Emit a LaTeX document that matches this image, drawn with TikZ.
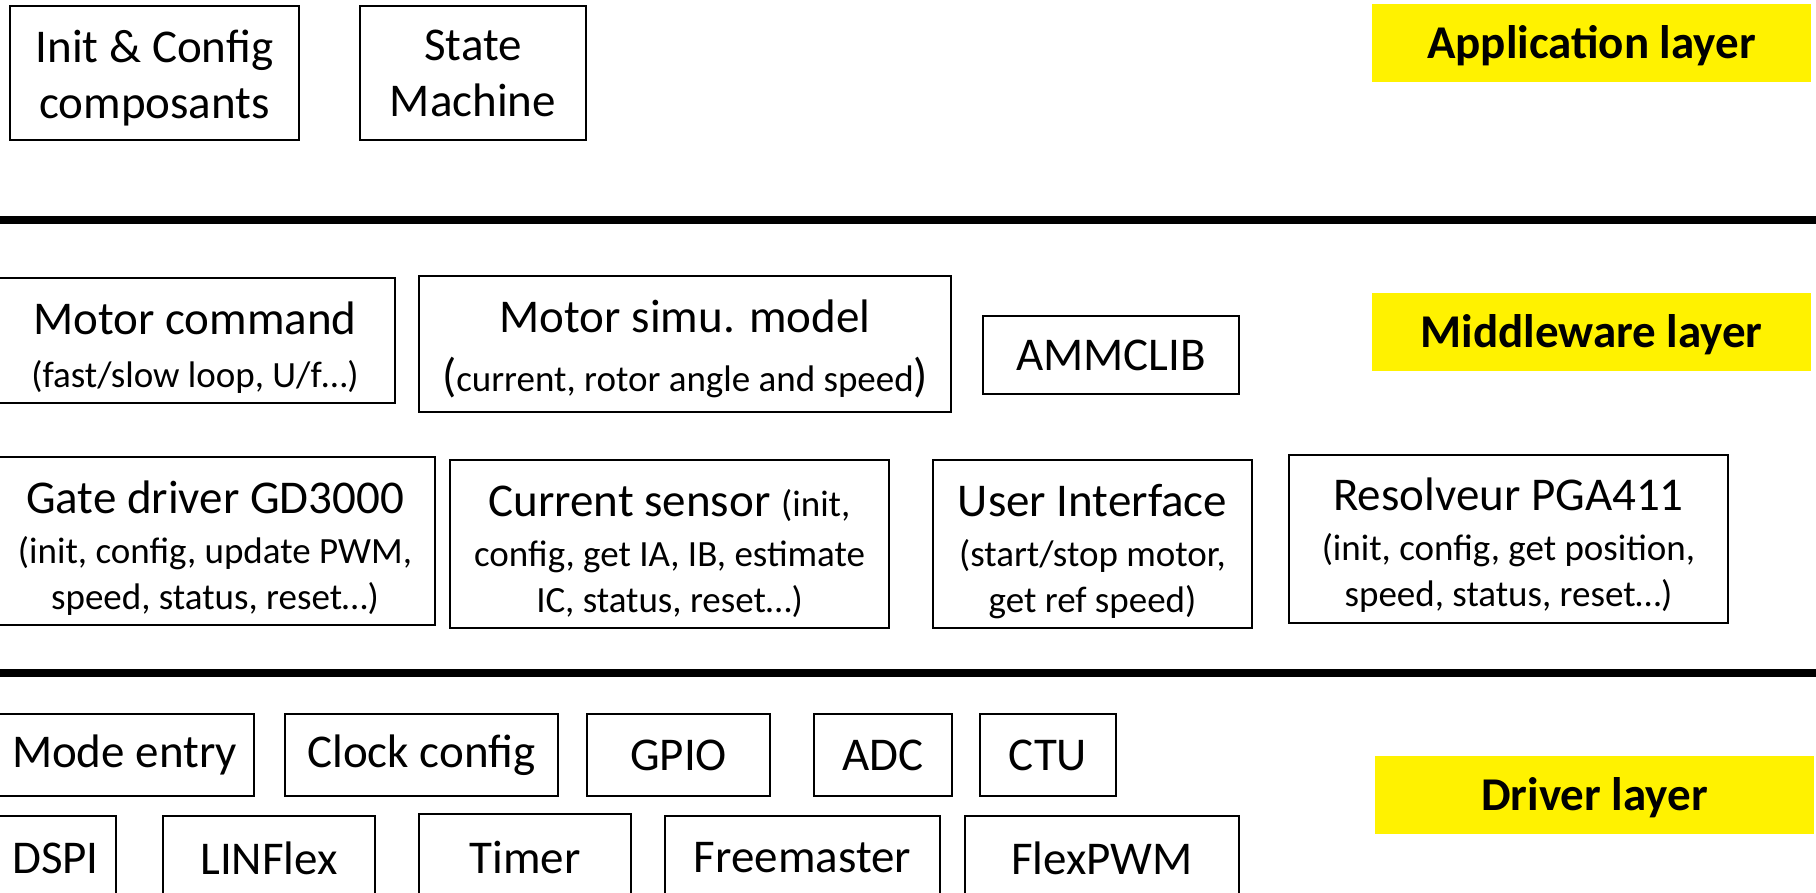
\documentclass[tikz,border=0pt]{standalone}
\usepackage{fontspec}
\setmainfont{Carlito}
\newcommand\fbig{\fontsize{47}{56}\selectfont}
\newcommand\fsmall{\fontsize{37}{45}\selectfont}
\newcommand\boxstrut[1]{\rule{0pt}{#1}}
\tikzset{
  box/.style={draw=black, line width=2pt, rectangle, inner sep=0pt, outer sep=0pt, align=center, font=\fbig},
  lab/.style={fill=yellow, rectangle, inner sep=0pt, outer sep=0pt, minimum width=439pt, minimum height=78pt, text height=30pt, text depth=0pt, font=\fbig\bfseries},
  sep/.style={line width=8pt, black}
}
\begin{document}
\begin{tikzpicture}[x=1pt,y=-1pt]
\useasboundingbox (0,0) rectangle (1816,892);
\clip (0,0) rectangle (1816,892);
\fill[white] (0,0) rectangle (1816,892);
% Application layer
\node[box, minimum width=289pt, minimum height=134pt] (init) at (154.5,73) {\boxstrut{43pt}Init \& Config\\composants};
\node[box, minimum width=226pt, minimum height=134pt] (state) at (473,73) {State\\Machine};
\node[lab] (applab) at (1591.5,43) {Application layer};
% separator 1
\coordinate (s1w) at (0,220);
\coordinate (s1e) at (1816,220);
\draw[sep] (s1w) -- (s1e);
% Middleware layer
\node[box, minimum width=400pt, minimum height=125pt] (motcmd) at (195,340.5) {\boxstrut{47pt}Motor command\\[-3pt]{\fsmall (fast/slow loop, U/f…)}};
\node[box, minimum width=532pt, minimum height=136pt] (motsim) at (685,344) {\boxstrut{42pt}Motor simu. model\\[3pt](\fsmall current, rotor angle and speed\fbig)};
\node[box, minimum width=256pt, minimum height=78pt] (ammc) at (1111,355) {AMMCLIB};
\node[lab] (midlab) at (1591.5,332) {Middleware layer};
\node[box, minimum width=440pt, minimum height=168pt] (gate) at (215,541) {\boxstrut{47pt}Gate driver GD3000\\[-6pt]{\fsmall (init, config, update PWM,}\\[-10pt]{\fsmall speed, status, reset…)}};
\node[box, minimum width=439pt, minimum height=168pt] (cursens) at (669.5,544) {\boxstrut{47pt}Current sensor {\fsmall (init,}\\[-6pt]{\fsmall config, get IA, IB, estimate}\\[-10pt]{\fsmall IC, status, reset…)}};
\node[box, minimum width=319pt, minimum height=168pt] (ui) at (1092.5,544) {\boxstrut{47pt}User Interface\\[-6pt]{\fsmall (start/stop motor,}\\[-10pt]{\fsmall get ref speed)}};
\node[box, minimum width=439pt, minimum height=168pt] (resolv) at (1508.5,539) {\boxstrut{45pt}Resolveur PGA411\\[-6pt]{\fsmall (init, config, get position,}\\[-10pt]{\fsmall speed, status, reset…)}};
% separator 2
\coordinate (s2w) at (0,673);
\coordinate (s2e) at (1816,673);
\draw[sep] (s2w) -- (s2e);
% Driver layer
\node[box, minimum width=259pt, minimum height=82pt] (mode) at (124.5,755) {Mode entry};
\node[box, minimum width=273pt, minimum height=82pt] (clock) at (421.5,755) {Clock config};
\node[box, minimum width=183pt, minimum height=82pt] (gpio) at (678.5,755) {GPIO};
\node[box, minimum width=138pt, minimum height=82pt] (adc) at (883,755) {ADC};
\node[box, minimum width=136pt, minimum height=82pt] (ctu) at (1048,755) {CTU};
\node[lab] (drvlab) at (1594.5,795) {Driver layer};
\node[box, minimum width=121pt, minimum height=84pt] (dspi) at (55.5,858) {DSPI};
\node[box, minimum width=212pt, minimum height=84pt] (linflex) at (269,858) {LINFlex};
\node[box, minimum width=212pt, minimum height=86pt] (timer) at (525,857) {Timer};
\node[box, minimum width=275pt, minimum height=84pt] (freem) at (802.5,858) {Freemaster};
\node[box, minimum width=274pt, minimum height=84pt] (flexpwm) at (1102,858) {FlexPWM};
\end{tikzpicture}
\end{document}
